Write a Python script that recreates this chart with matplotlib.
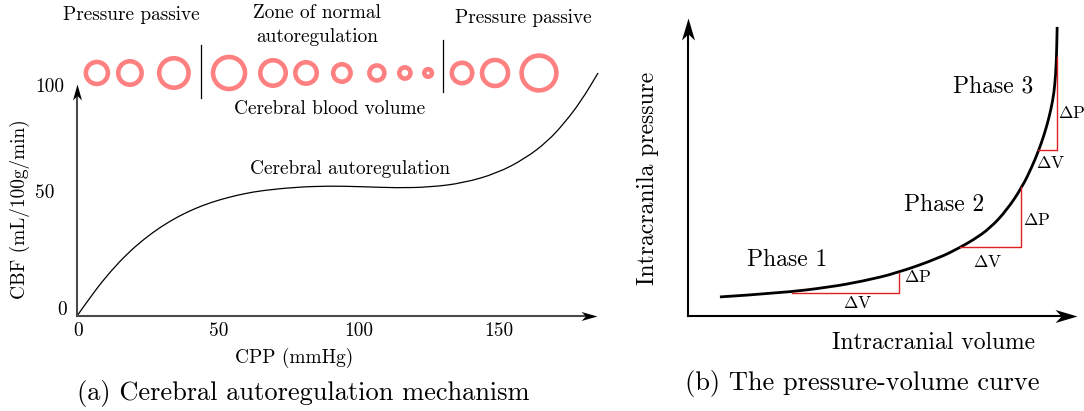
import numpy as np
import matplotlib.pyplot as plt
from matplotlib.path import Path
from matplotlib.patches import PathPatch

plt.rcParams['font.family'] = 'cmr10'
plt.rcParams['mathtext.fontset'] = 'cm'
plt.rcParams['axes.unicode_minus'] = False

# Panel (a): cerebral autoregulation curve (CPP in mmHg, CBF in mL/100g/min)
cpp = [0, 6, 12, 18, 24, 30, 36, 42, 48, 54, 60, 66, 78, 90, 102, 114, 126,
       138, 150, 160, 168, 174, 180, 186.1]
cbf = [0, 9.8, 18.3, 25.6, 31.6, 36.6, 40.7, 44.0, 46.6, 48.6, 50.2, 51.4, 52.8,
       53.3, 53.0, 52.5, 52.8, 54.5, 58.5, 64.5, 71.5, 79.0, 88.0, 99.6]
x_ticks = [0, 50, 100, 150]
y_tick_labels = ['0', '50', '100']

# cerebral blood volume (vessel radius, px) along CPP
vessel_cpp = [7.1, 18.9, 34.6, 54.3, 70.0, 81.8, 94.6, 107.1, 117.1, 125.4, 137.5, 149.3, 165.0]
vessel_r = [13.3, 14.0, 17.0, 18.3, 15.0, 13.0, 11.0, 9.8, 7.9, 6.1, 12.5, 15.3, 19.7]
zone_limits = [44.3, 130.7]

# Panel (b): pressure-volume curve (arbitrary units)
volume = [0.82, 2.37, 3.65, 4.50, 5.37, 6.48, 6.99, 7.33, 7.76, 8.20, 8.59, 8.84,
          9.02, 9.16, 9.28, 9.38, 9.43, 9.47, 9.49]
pressure = [0.64, 0.77, 0.97, 1.17, 1.44, 1.96, 2.30, 2.55, 2.94, 3.56, 4.33, 5.00,
            5.57, 6.10, 6.65, 7.25, 7.75, 8.50, 9.70]
# step triangles: (V start, V end, P base, P top)
steps = [(2.67, 5.42, 0.77, 1.44), (6.99, 8.56, 2.32, 4.33), (9.00, 9.49, 5.57, 8.69)]

W, H = 1084, 411
fig = plt.figure(figsize=(W / 100, H / 100), dpi=100)


def px_axes(l, t, r, b):
    ax = fig.add_axes([l / W, 1 - b / H, (r - l) / W, (b - t) / H])
    ax.axis('off')
    return ax


def arrow_head(ax, x, y, direction, length, width, color):
    # stealth-like head, tip sits on (x, y)
    hw = width / 2 / length
    verts = [(0, 0), (-1, hw), (-0.72, 0), (-1, -hw), (0, 0)]
    if direction == 'up':
        verts = [(-vy, vx) for vx, vy in verts]
    codes = [Path.MOVETO, Path.LINETO, Path.LINETO, Path.LINETO, Path.CLOSEPOLY]
    ax.plot([x], [y], marker=Path(verts, codes), markersize=2 * length / 1.389,
            color=color, markeredgewidth=0, clip_on=False)


def smooth_curve(ax, xs, ys, **kw):
    # quadratic B-spline path through the read points
    pts = list(zip(xs, ys))
    verts, codes = [pts[0]], [Path.MOVETO]
    for i in range(1, len(pts) - 1):
        mid = ((pts[i][0] + pts[i + 1][0]) / 2, (pts[i][1] + pts[i + 1][1]) / 2)
        verts += [pts[i], mid]
        codes += [Path.CURVE3, Path.CURVE3]
    verts.append(pts[-1])
    codes.append(Path.LINETO)
    ax.add_patch(PathPatch(Path(verts, codes), fill=False, clip_on=False, **kw))


fs = 13.9

# ---------- panel (a) ----------
sx, sy = 2.8, 2.44  # px per unit
axL = px_axes(77, 0, 610, 316)
axL.set_xlim(0, 533 / sx)
axL.set_ylim(0, 316 / sy)
gray = '#4a4a4a'
axL.plot([0, 185.7 - 10 / sx], [0, 0], color=gray, lw=1.5, clip_on=False)
axL.plot([0, 0], [0, 95 - 10 / sy], color=gray, lw=1.5, clip_on=False)
arrow_head(axL, 185.7, 0, 'right', 16, 9, 'black')
arrow_head(axL, 0, 95, 'up', 16, 9, 'black')
smooth_curve(axL, cpp, cbf, edgecolor='black', lw=0.9)

for t in x_ticks:
    axL.text(t + 0.5, -6.3, str(t), ha='center', va='center', fontsize=fs)
axL.text(-5.4, 2.5, y_tick_labels[0], ha='center', va='center', fontsize=fs)
axL.text(-15, 50.4, y_tick_labels[1], ha='left', va='center', fontsize=fs)
axL.text(-15, 93.9, y_tick_labels[2], ha='left', va='center', fontsize=fs)
axL.text(77.5, -17, 'CPP (mmHg)', ha='center', va='center', fontsize=fs)
axL.text(-20.4, 44, 'CBF (mL/100g/min)', ha='center', va='center',
         rotation=90, fontsize=fs)

axL.scatter(vessel_cpp, [99.6] * len(vessel_cpp),
            s=[(2 * (r - 2.3) / 1.389) ** 2 for r in vessel_r],
            facecolors='none', edgecolors='#ff8080', linewidths=3.3, clip_on=False)
axL.plot([zone_limits[0]] * 2, [89.3, 111], color='black', lw=0.9, clip_on=False)
axL.plot([zone_limits[1]] * 2, [91.8, 113.1], color='black', lw=0.9, clip_on=False)

axL.text(19.3, 123.4, 'Pressure passive', ha='center', va='center', fontsize=fs)
axL.text(85.7, 124.2, 'Zone of normal', ha='center', va='center', fontsize=fs)
axL.text(85.7, 114.3, 'autoregulation', ha='center', va='center', fontsize=fs)
axL.text(159.3, 122.1, 'Pressure passive', ha='center', va='center', fontsize=fs)
axL.text(90.2, 84.8, 'Cerebral blood volume', ha='center', va='center', fontsize=fs)
axL.text(97.7, 60.2, 'Cerebral autoregulation', ha='center', va='center', fontsize=fs)

# ---------- panel (b) ----------
vx, py = 38.9, 29.8
axR = px_axes(688, 0, 1084, 316)
axR.set_xlim(0, 396 / vx)
axR.set_ylim(0, 316 / py)
axR.plot([0, 10 - 14 / vx], [0, 0], color='black', lw=1.5, clip_on=False)
axR.plot([0, 0], [0, 10 - 14 / py], color='black', lw=1.5, clip_on=False)
arrow_head(axR, 10, 0, 'right', 22, 13, 'black')
arrow_head(axR, 0, 10, 'up', 22, 13, 'black')

for v0, v1, p0, p1 in steps:
    axR.plot([v0, v1, v1], [p0, p0, p1], color='#e02020', lw=1.0, clip_on=False)
smooth_curve(axR, volume, pressure, edgecolor='black', lw=2.0)

dv_pos = [(4.37, 0.44), (7.69, 1.81), (9.31, 5.13)]
dp_pos = [(5.91, 1.31), (8.97, 3.22), (9.87, 6.81)]
phase_pos = [(2.54, 1.88), (6.58, 3.72), (7.84, 7.72)]
for i in range(3):
    axR.text(*dv_pos[i], r'$\Delta$V', ha='center', va='center', fontsize=12.5)
    axR.text(*dp_pos[i], r'$\Delta$P', ha='center', va='center', fontsize=12.5)
    axR.text(*phase_pos[i], f'Phase {i + 1}', ha='center', va='center', fontsize=17)

axR.text(6.3, -0.9, 'Intracranial volume', ha='center', va='center', fontsize=17)
axR.text(-1.03, 4.6, 'Intracranila pressure', ha='center', va='center',
         rotation=90, fontsize=17)

fig.text(303 / W, 1 - 393 / H, '(a) Cerebral autoregulation mechanism',
         ha='center', va='center', fontsize=19)
fig.text(862 / W, 1 - 383 / H, '(b) The pressure-volume curve',
         ha='center', va='center', fontsize=19)

fig.savefig('out.png', dpi=100)
